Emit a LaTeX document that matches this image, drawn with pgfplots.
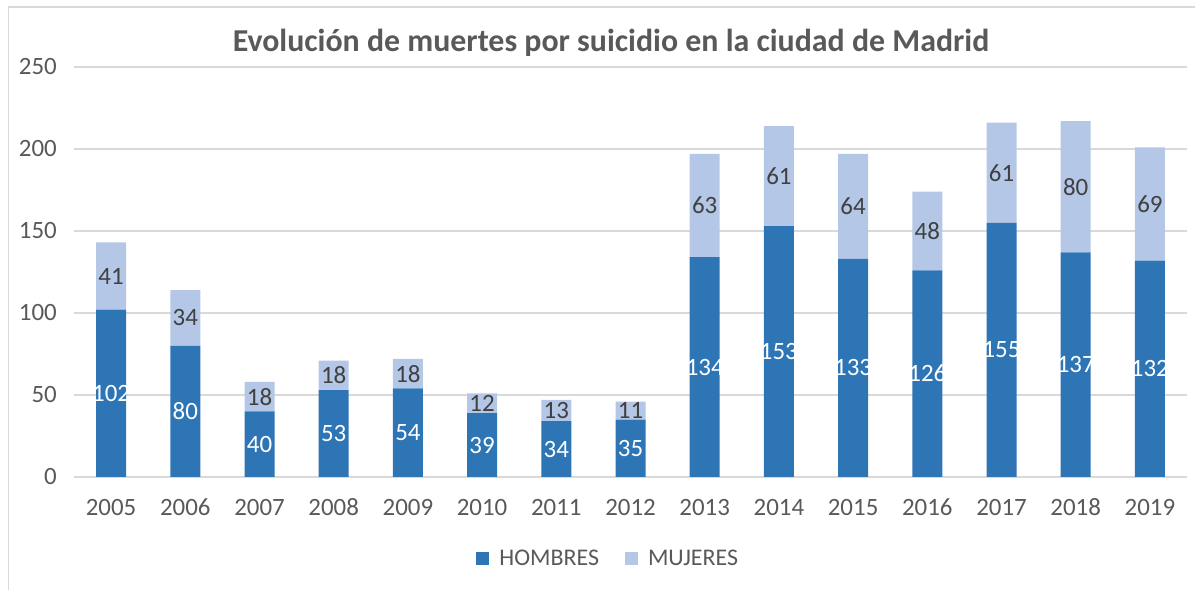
\documentclass[border=0pt]{standalone}
\usepackage{pgfplots}
\pgfplotsset{compat=1.18}
\usepackage{pgfplotstable}
\usepackage{fontspec}
\setmainfont{Carlito}
\definecolor{hom}{HTML}{2E75B6}
\definecolor{muj}{HTML}{B4C7E7}
\definecolor{txt}{HTML}{595959}
\definecolor{lab}{HTML}{404040}
\definecolor{gridc}{HTML}{D9D9D9}
\pgfplotstableread{
x year H M
0 2005 102 41
1 2006 80 34
2 2007 40 18
3 2008 53 18
4 2009 54 18
5 2010 39 12
6 2011 34 13
7 2012 35 11
8 2013 134 63
9 2014 153 61
10 2015 133 64
11 2016 126 48
12 2017 155 61
13 2018 137 80
14 2019 132 69
}\data
\begin{document}
\begin{tikzpicture}[x=1bp,y=1bp]
\path[use as bounding box] (0,0) rectangle (1195,590);
\draw[gridc, line width=1.2bp] (8.5,0) -- (8.5,583) -- (1195,583);
\node[txt, anchor=base, font=\fontsize{32}{33}\selectfont\bfseries] at (611,538) {Evolución de muertes por suicidio en la ciudad de Madrid};
\begin{axis}[
  at={(74bp,113bp)}, anchor=south west,
  scale only axis, width=1113bp, height=410bp,
  ybar stacked, bar width=30bp,
  xmin=-0.5, xmax=14.5, ymin=0, ymax=250,
  ytick={0,50,...,250},
  xtick=data, xticklabels from table={\data}{year},
  ymajorgrids, grid style={gridc, line width=1.2bp},
  axis line style={draw=none},
  major tick length=0pt,
  /pgf/number format/assume math mode=true,
  tick label style={txt, font=\fontsize{25}{26}\selectfont},
  yticklabel style={xshift=-13.7bp},
  xticklabel style={anchor=base, yshift=-39bp},
  legend style={at={(0.480,-0.198)}, anchor=center, draw=none, fill=none,
    legend columns=2, font=\fontsize{24}{25}\selectfont, text=txt,
    /tikz/every odd column/.append style={column sep=8bp},
    /tikz/every even column/.append style={column sep=24bp},
    inner sep=0pt},
  legend image code/.code={\fill[#1] (0bp,-6.5bp) rectangle (13bp,6.5bp);},
  nodes near coords,
  point meta=explicit,
]
\addplot[fill=hom, draw=none,
  nodes near coords style={white, anchor=center, font=\fontsize{25}{25}\selectfont}]
  table[x=x, y=H, meta=H] {\data};
\addlegendentry{HOMBRES}
\addplot[fill=muj, draw=none,
  nodes near coords style={lab, anchor=center, font=\fontsize{25}{25}\selectfont}]
  table[x=x, y=M, meta=M] {\data};
\addlegendentry{MUJERES}
\end{axis}
\end{tikzpicture}
\end{document}
